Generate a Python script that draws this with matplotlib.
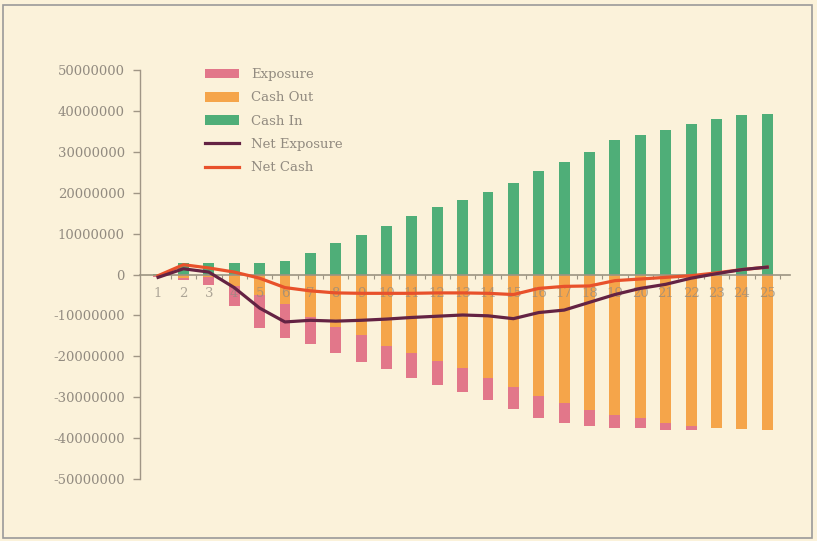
import matplotlib
matplotlib.use("Agg")
import matplotlib.pyplot as plt
from matplotlib.patches import Rectangle
from matplotlib.ticker import FuncFormatter, FixedLocator
import numpy as np

periods = list(range(1, 26))
cash_in = [0.2, 2.7, 2.7, 2.7, 2.9, 3.2, 5.2, 7.6, 9.7, 11.8, 14.3, 16.4, 18.1,
           20.2, 22.4, 25.2, 27.5, 29.9, 32.8, 34.2, 35.3, 36.7, 37.9, 39.1, 39.3]
cash_out = [-0.3, -0.8, -0.5, -2.8, -4.9, -7.1, -10.3, -12.9, -14.7, -17.5, -19.2,
            -21.1, -22.8, -25.3, -27.6, -29.8, -31.5, -33.2, -34.3, -35.1, -36.2,
            -37.1, -37.6, -37.8, -37.9]
exposure = [-0.3, -0.6, -2.1, -4.8, -8.1, -8.5, -6.6, -6.4, -6.8, -5.7, -6.1,
            -5.9, -5.9, -5.5, -5.3, -5.3, -4.9, -3.9, -3.3, -2.5, -1.7, -1.0,
            0.0, 0.0, 0.0]
net_exposure = [-0.7, 1.4, 0.6, -3.2, -8.2, -11.6, -11.2, -11.4, -11.2, -10.9,
                -10.5, -10.2, -9.9, -10.1, -10.8, -9.3, -8.7, -6.8, -4.9, -3.4,
                -2.4, -0.9, 0.2, 1.2, 1.8]
net_cash = [-0.3, 2.4, 1.6, 0.6, -0.9, -3.2, -4.0, -4.5, -4.6, -4.6, -4.6, -4.5,
            -4.5, -4.6, -4.9, -3.4, -2.9, -2.8, -1.5, -1.1, -0.7, -0.3, 0.4,
            1.2, 1.8]
yticks = [-50, -40, -30, -20, -10, 0, 10, 20, 30, 40, 50]

M = 1e6
x = np.array(periods)
ci = np.array(cash_in) * M
co = np.array(cash_out) * M
ex = np.array(exposure) * M
ne = np.array(net_exposure) * M
nc = np.array(net_cash) * M

bg = "#FBF2DA"
txt = "#928B80"
c_exp = "#E2778A"
c_out = "#F5A54A"
c_in = "#4FAE78"
c_ne = "#642343"
c_nc = "#E8512B"

plt.rcParams["font.family"] = ["DejaVu Serif"]
plt.rcParams["axes.unicode_minus"] = False

fig = plt.figure(figsize=(8.17, 5.41), dpi=100, facecolor=bg)
fig.patches.append(Rectangle((0.004, 0.006), 0.99, 0.985, transform=fig.transFigure,
                             fill=False, edgecolor="#9A9A9A", linewidth=1.2))
ax = fig.add_axes([0.1714, 0.1146, 0.7956, 0.756])
ax.set_facecolor(bg)

w = 0.43
b_exp = ax.bar(x, ex, w, bottom=co, color=c_exp, zorder=3, label="Exposure")
b_out = ax.bar(x, co, w, color=c_out, zorder=3, label="Cash Out")
b_in = ax.bar(x, ci, w, color=c_in, zorder=3, label="Cash In")
l_nc, = ax.plot(x, nc, color=c_nc, lw=2.3, zorder=4, label="Net Cash")
l_ne, = ax.plot(x, ne, color=c_ne, lw=2.3, zorder=5, label="Net Exposure")

ax.set_xlim(0.29, 25.9)
ax.set_ylim(-50 * M, 50 * M)

for s in ["top", "right"]:
    ax.spines[s].set_visible(False)
ax.spines["left"].set_color("#A09686")
ax.spines["left"].set_linewidth(1.0)
ax.spines["bottom"].set_position(("data", 0))
ax.spines["bottom"].set_color("#9C9482")
ax.spines["bottom"].set_linewidth(1.2)
ax.spines["bottom"].set_zorder(3.5)
ax.xaxis.set_zorder(3.5)

ax.set_yticks([v * M for v in yticks])
ax.yaxis.set_major_formatter(FuncFormatter(lambda v, p: "%d" % round(v)))
ax.tick_params(axis="y", colors="#A09686", labelsize=9.5, length=5, width=1,
               direction="out", pad=6)
ax.tick_params(axis="y", labelcolor=txt)

ax.set_xticks(x)
ax.set_xticklabels([str(p) for p in periods])
ax.tick_params(axis="x", which="major", length=0, pad=9, labelsize=9.5,
               labelcolor=txt)
ax.xaxis.set_minor_locator(FixedLocator(np.arange(1.5, 26, 1.0)))
ax.tick_params(axis="x", which="minor", length=3, width=0.8, color="#9C9482",
               direction="out")
for lbl in ax.get_xticklabels():
    lbl.set_alpha(0.75)

leg = ax.legend(handles=[b_exp, b_out, b_in, l_ne, l_nc], loc="upper left",
                bbox_to_anchor=(0.251, 0.874), bbox_transform=fig.transFigure,
                frameon=False, fontsize=9.5, labelcolor=txt, handlelength=2.6,
                handleheight=0.75, labelspacing=0.78, handletextpad=0.9,
                borderaxespad=0, borderpad=0)

fig.savefig("out.png", dpi=100, facecolor=bg)
